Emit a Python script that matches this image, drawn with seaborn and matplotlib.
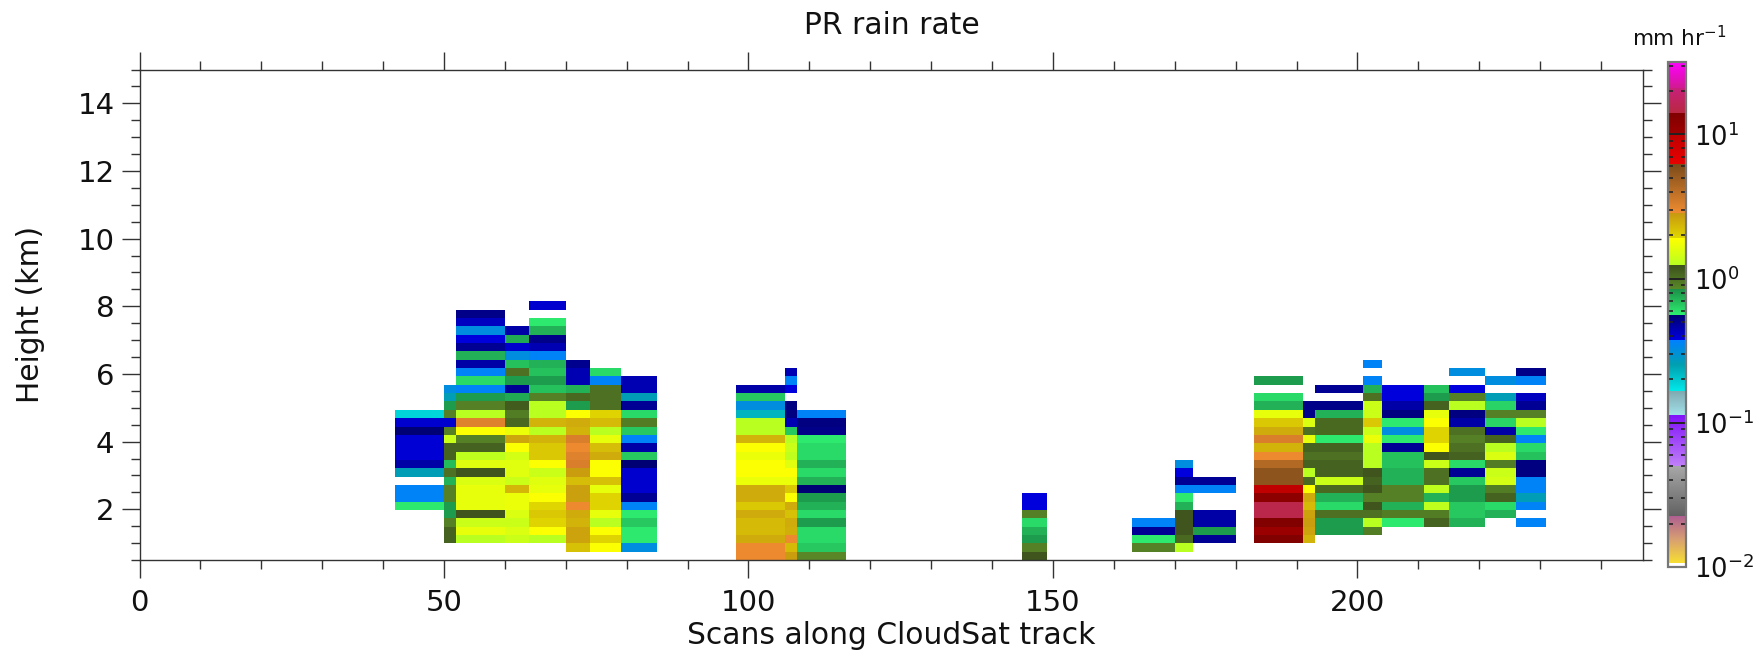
import numpy as np
import pandas as pd
import matplotlib
matplotlib.use("Agg")
import matplotlib.pyplot as plt
from matplotlib.colors import LinearSegmentedColormap, LogNorm
from matplotlib.ticker import FixedLocator, LogLocator, NullFormatter
import seaborn as sns

nan = float("nan")

# rain rate (mm/hr) per column: scan range, first range-bin index, then values upward
rates_42_50 = [.57,.36,.36,nan,.26,.46,.39,.39,.39,.55,.40,.186]
rates_50_52 = [1.1,1.1,.90,.80,.80,.90,.90,.73,1.0,.70,1.1,1.1,1.39,.90,.40,.90,.80,.26,.32]
rates_52_60 = [1.25,1.65,1.39,1.2,1.65,1.65,1.65,1.53,1.2,1.57,1.29,1.1,.90,1.87,3.2,1.25,.90,.80,.36,.61,.36,.46,.73,.49,.38,.32,.42,.51]
rates_60_64 = [1.39,1.53,1.39,1.53,1.69,1.69,2.35,1.39,1.57,1.57,1.45,1.87,2.6,1.69,1.05,.92,1.15,.75,.49,.80,1.0,.68,.32,.40,.75,.46]
rates_64_70 = [1.25,1.87,1.95,2.1,1.93,1.87,1.65,1.57,1.39,1.87,2.1,2.1,2.4,1.25,2.4,1.25,1.25,.90,.68,.80,.68,.73,.36,.44,.51,.73,.57,nan,.40]
rates_70_74 = [2.2,2.65,2.65,2.4,2.5,2.9,2.7,2.7,2.25,2.75,3.3,3.2,2.9,3.3,2.4,2.5,1.87,.80,1.05,.73,.44,.44,.50]
rates_74_79 = [1.87,1.95,1.87,1.25,1.65,1.95,1.95,1.65,2.2,1.87,1.87,2.5,2.25,1.65,1.25,2.3,1.95,1.0,1.0,1.0,.36,.61]
rates_79_85 = [.32,.57,.57,.66,.57,.36,.49,.40,.40,.40,.55,.66,.46,.36,.66,.92,.61,.49,.26,.44,.44]
rates_98_106 = [2.9,2.9,2.5,2.3,2.3,2.5,2.1,2.5,2.5,1.69,1.87,1.87,1.69,1.87,2.4,1.25,1.25,.225,.32,.66,.46]
rates_106_108 = [2.75,2.3,2.9,2.45,2.5,2.2,2.5,1.87,2.1,1.69,1.87,1.57,1.29,1.39,1.25,.66,.44,.53,.53,nan,.38,.36,.44]
rates_108_116 = [.86,.66,.61,.61,.80,.61,.73,.80,.55,.73,.61,.73,.61,.61,.57,.51,.53,.36]
rates_145_149 = [1.2,.90,.80,.73,.61,.90,.38,.38]
rates_163_170 = [.90,.57,.49,.36]
rates_170_173 = [1.25,1.05,1.2,1.2,1.2,.73,.57,.36,.49,.38,.32]
rates_173_180 = [.49,.80,.46,.46,nan,nan,.36,.49]
rates_183_191 = [13.8,10.5,13.8,15,15,12.3,9.9,5.5,5.5,4.3,2.9,2.4,3.3,2.5,2.1,1.65,.73,.61,nan,.80]
rates_191_193 = [2.4,2.65,2.75,2.65,2.3,2.5,1.87,1.05,1.25,1.1,1.0,1.1,1.65,1.0,1.53,.51,.51]
rates_193_201 = [.80,.80,1.0,.61,.73,1.05,1.39,1.1,1.1,1.0,1.1,.57,1.05,1.05,.73,.51,nan,.49]
rates_201_204 = [.92,1.25,1.0,1.2,.90,1.2,1.1,1.2,1.25,1.25,1.25,1.69,1.39,2.1,1.39,1.39,1.0,.73,.36,nan,.36]
rates_204_211 = [.57,.92,.73,.90,.90,.73,.73,.68,.68,.49,.57,.32,.57,.53,.46,.38,.38]
rates_211_215 = [1.1,.92,1.29,.73,1.29,1.0,1.0,1.39,1.2,1.87,1.95,1.95,1.87,1.65,1.1,.80,.68]
rates_215_221 = [.73,.66,.66,.80,.80,.66,.49,.61,1.1,1.0,.90,1.0,.46,.53,1.25,.90,.38,nan,.32]
rates_221_226 = [.73,.61,1.1,.92,1.45,1.39,.92,1.53,1.25,1.1,.46,.63,.90,.63,.26,nan,.32]
rates_226_231 = [.36,nan,.36,.26,.36,.36,.53,.53,.68,.61,.36,.57,1.25,.90,.49,.42,nan,.36,.51]

columns = [
    (42, 50, 6, rates_42_50), (50, 52, 2, rates_50_52), (52, 60, 2, rates_52_60),
    (60, 64, 2, rates_60_64), (64, 70, 2, rates_64_70), (70, 74, 1, rates_70_74),
    (74, 79, 1, rates_74_79), (79, 85, 1, rates_79_85), (98, 106, 0, rates_98_106),
    (106, 108, 0, rates_106_108), (108, 116, 0, rates_108_116), (145, 149, 0, rates_145_149),
    (163, 170, 1, rates_163_170), (170, 173, 1, rates_170_173), (173, 180, 2, rates_173_180),
    (183, 191, 2, rates_183_191), (191, 193, 2, rates_191_193), (193, 201, 3, rates_193_201),
    (201, 204, 3, rates_201_204), (204, 211, 4, rates_204_211), (211, 215, 4, rates_211_215),
    (215, 221, 4, rates_215_221), (221, 226, 5, rates_221_226), (226, 231, 4, rates_226_231),
]

n_scans = 247
n_bins = 59
bin_base = 0.494
bin_size = 0.247
grid = np.full((n_bins, n_scans), np.nan)
for s0, s1, first, values in columns:
    for k, v in enumerate(values):
        grid[first + k, s0:s1] = v
df = pd.DataFrame(grid)

def h2bin(h):
    return (np.asarray(h, dtype=float) - bin_base) / bin_size

# colour bar stops, given by pixel row in the colour bar (567 = 1e-2, 62.3 = 10^1.5)
def f(y):
    return (567.0 - y) / 504.7

stops = [
    (0, "#ffffff"), (f(563.5), "#ffffff"), (f(563.5), "#f8e030"), (f(540), "#d8a070"), (f(516.7), "#b06090"),
    (f(516.7), "#606060"), (f(466), "#a8a8a8"), (f(466), "#c080f8"), (f(415), "#8010f8"),
    (f(415), "#a0e0e8"), (f(390.7), "#80a8b0"), (f(390.7), "#00e8e8"), (f(365), "#00a0b0"), (f(340), "#0080ff"),
    (f(340), "#0000e0"), (f(315), "#000070"), (f(315), "#2eee70"), (f(289.3), "#1c9048"),
    (f(289.3), "#5a8a28"), (f(265), "#3c501c"), (f(265), "#b8ff20"), (f(238.3), "#ffff00"),
    (f(238.3), "#e0d800"), (f(213.3), "#c89810"), (f(213.3), "#f08c30"), (f(164), "#7a4a1a"),
    (f(164), "#e80000"), (f(135), "#c00000"), (f(135), "#a00000"), (f(113.3), "#800000"),
    (f(113.3), "#b82840"), (f(88.3), "#c8207a"), (f(88.3), "#d01a90"), (1, "#ff00ff"),
]
cmap = LinearSegmentedColormap.from_list("pr", stops, N=2048)
norm = LogNorm(vmin=1e-2, vmax=10 ** 1.5)

W, H = 1760, 652
fig = plt.figure(figsize=(W / 100, H / 100), dpi=100)
ax = fig.add_axes([139.5 / W, 1 - 560 / H, (1643 - 139.5) / W, (560 - 69.5) / H])
cax = fig.add_axes([1668 / W, 1 - 567 / H, 18 / W, (567 - 62.3) / H])

sns.heatmap(df, ax=ax, cmap=cmap, norm=norm, cbar=True, cbar_ax=cax,
            xticklabels=False, yticklabels=False)

ink = "#333333"
ax.set_xlim(0, 246.9)
ax.set_ylim(h2bin(0.5), h2bin(15))
ax.set_facecolor("white")
for s in ax.spines.values():
    s.set_visible(True)
    s.set_color(ink)
    s.set_linewidth(1.0)

x_major = [0, 50, 100, 150, 200]
x_minor = [x for x in range(0, 247, 10) if x not in x_major]
y_major = [2, 4, 6, 8, 10, 12, 14]
y_minor = [y / 2 for y in range(1, 31) if y % 4 != 0]

ax.xaxis.set_major_locator(FixedLocator(x_major))
ax.xaxis.set_minor_locator(FixedLocator(x_minor))
ax.yaxis.set_major_locator(FixedLocator(h2bin(y_major)))
ax.yaxis.set_minor_locator(FixedLocator(h2bin(y_minor)))
ax.set_xticklabels([str(v) for v in x_major])
ax.set_yticklabels([str(v) for v in y_major], rotation=0)
ax.tick_params(axis="both", which="major", length=13, width=1.0, color=ink, labelsize=21, pad=8,
               top=True, bottom=True, left=True, right=True, labeltop=False, labelright=False,
               direction="out", labelcolor="#111111")
ax.tick_params(axis="both", which="minor", length=6.5, width=1.0, color=ink,
               top=True, bottom=True, left=True, right=True, direction="out")
ax.tick_params(axis="y", which="major", pad=5)
ax.set_xlabel("Scans along CloudSat track", fontsize=21.4, labelpad=2.5, color="#111111")
ax.set_ylabel("Height (km)", fontsize=21.4, labelpad=23, color="#111111")
fig.text(892 / W, 1 - 25 / H, "PR rain rate", fontsize=21.4, ha="center", va="center", color="#111111")

cb = ax.collections[0].colorbar
cb.outline.set_visible(True)
cb.outline.set_linewidth(1.6)
cb.outline.set_edgecolor("#777777")
cax.yaxis.set_major_locator(FixedLocator([1e-2, 1e-1, 1, 10]))
cax.yaxis.set_minor_locator(LogLocator(base=10, subs=np.arange(2, 10), numticks=12))
cax.yaxis.set_minor_formatter(NullFormatter())
cax.set_yticklabels(["$10^{-2}$", "$10^{-1}$", "$10^{0}$", "$10^{1}$"])
cax.tick_params(axis="y", which="major", direction="in", length=13, width=1.2, color="#222222",
                left=True, right=True, labelsize=18.5, pad=6, labelcolor="#111111")
cax.tick_params(axis="y", which="minor", direction="in", length=3.5, width=1.2, color="#222222",
                left=True, right=True)
fig.text(1632 / W, 1 - 38 / H, "mm hr$^{-1}$", fontsize=15.5, ha="left", va="center", color="#111111")

fig.savefig("out.png", dpi=100, facecolor="white")
